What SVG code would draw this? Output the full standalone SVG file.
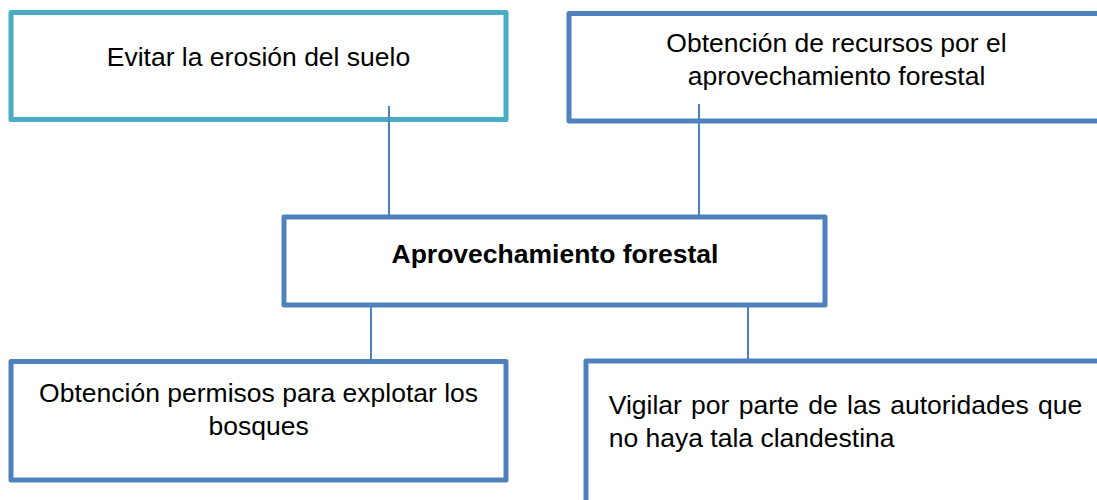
<svg xmlns="http://www.w3.org/2000/svg" width="1097" height="500" viewBox="0 0 1097 500">
  <style>
    .box { fill: #ffffff; stroke: #4F81BD; stroke-width: 5; stroke-linejoin: round; }
    .teal { stroke: #4BACC6; }
    .t { font-family: "Liberation Sans", Arial, sans-serif; font-size: 26.5px; fill: #000000; }
    .c { text-anchor: middle; }
    .b { font-weight: bold; }
    .conn { stroke: #4F81BD; stroke-width: 2; fill: none; }
  </style>
  <rect width="1097" height="500" fill="#ffffff"/>
  <g id="n1">
    <rect class="box teal" x="11" y="12.5" width="495" height="107"/>
    <text class="t c" x="258.5" y="66">Evitar la erosión del suelo</text>
  </g>
  <g id="n2">
    <rect class="box" x="569" y="13.5" width="540" height="107.5"/>
    <text class="t c" x="836.5" y="52">Obtención de recursos por el</text>
    <text class="t c" x="836.5" y="84.5">aprovechamiento forestal</text>
  </g>
  <g id="n3">
    <rect class="box" x="284" y="217" width="541" height="88"/>
    <text class="t c b" x="555" y="263">Aprovechamiento forestal</text>
  </g>
  <g id="n4">
    <rect class="box" x="11" y="361.5" width="495" height="118.5"/>
    <text class="t c" x="258.6" y="402">Obtención permisos para explotar los</text>
    <text class="t c" x="258.6" y="434.5">bosques</text>
  </g>
  <g id="n5">
    <rect class="box" x="586" y="361" width="530" height="160"/>
    <text class="t" x="608.7" y="414" word-spacing="1.9">Vigilar por parte de las autoridades que</text>
    <text class="t" x="608.7" y="447">no haya tala clandestina</text>
  </g>
  <g id="connectors">
    <line class="conn" x1="389" y1="106" x2="389" y2="216"/>
    <line class="conn" x1="699" y1="104" x2="699" y2="216"/>
    <line class="conn" x1="371" y1="306" x2="371" y2="360"/>
    <line class="conn" x1="748" y1="306" x2="748" y2="360"/>
  </g>
</svg>
